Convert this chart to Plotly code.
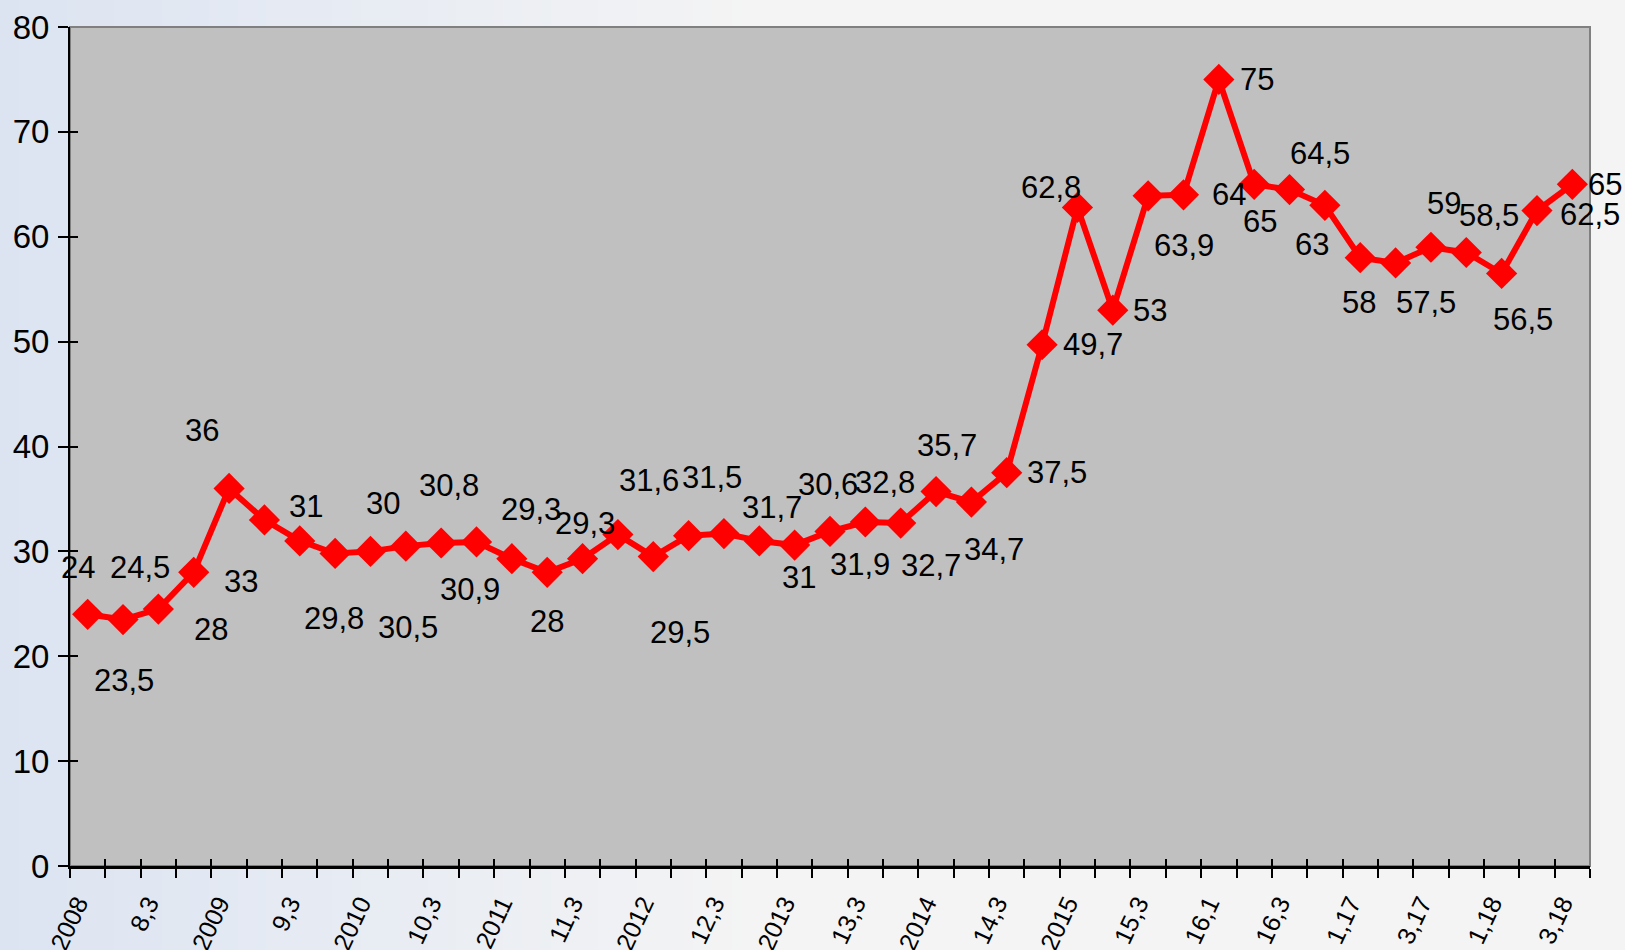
import plotly.graph_objects as go

# ---- data ----
values = [24, 23.5, 24.5, 28, 36, 33, 31, 29.8, 30, 30.5, 30.8, 30.9, 29.3, 28, 29.3,
          31.6, 29.5, 31.5, 31.7, 31, 30.6, 31.9, 32.8, 32.7, 35.7, 34.7, 37.5, 49.7,
          62.8, 53, 63.9, 64, 75, 65, 64.5, 63, 58, 57.5, 59, 58.5, 56.5, 62.5, 65]
tick_labels = ["2008", "8,3", "2009", "9,3", "2010", "10,3", "2011", "11,3", "2012",
               "12,3", "2013", "13,3", "2014", "14,3", "2015", "15,3", "16,1", "16,3",
               "1,17", "3,17", "1,18", "3,18"]
y_ticks = [0, 10, 20, 30, 40, 50, 60, 70, 80]

# label offsets (px, relative to each point; style only)
label_dx = [-10, 1, -18, 17, -27, -23, 6, -1, 13, 2, 8, -7, 19, 0, 2, 31, 27, 23, 48, 40,
            33, 30, 20, 30, 11, 23, 50, 51, -26, 37, 36, 46, 38, 6, 30, -13, -1, 30, 13,
            23, 21, 53, 33]
label_dy = [-47, 61, -42, 57, -58, 62, -34, 65, -48, 81, -57, 48, -49, 49, -35, -54, 76,
            -58, -26, 37, -61, 33, -40, 42, -46, 47, 0, 0, -20, 0, 50, 0, 0, 37, -36, 39,
            45, 40, -44, -37, 46, 4, 0]

FONT = "Liberation Sans, Arial, sans-serif"

xs = list(range(len(values)))
n = len(values)


def fmt(v):
    return str(int(v)) if float(v).is_integer() else str(v).replace(".", ",")


fig = go.Figure()
fig.add_trace(go.Scatter(
    x=xs, y=values, mode="lines+markers",
    line=dict(color="#FF0000", width=6),
    marker=dict(symbol="diamond", size=24, color="#FF0000"),
    showlegend=False, hoverinfo="skip", cliponaxis=False,
))
# dummy trace for overlay axes (inside ticks)
fig.add_trace(go.Scatter(x=[None], y=[None], xaxis="x2", yaxis="y2",
                         showlegend=False, hoverinfo="skip"))

# gradient paper background
W, H = 1625, 950
L, R, T, B = 70, 35, 27, 84
pw, ph = W - L - R, H - T - B
c0 = (220, 228, 242)
c1 = (244, 244, 244)
steps = 80
shapes = []
grad_end = 760
for k in range(steps):
    px0 = grad_end * k / steps
    px1 = grad_end * (k + 1) / steps + 1
    t = (k + 0.5) / steps
    col = tuple(int(round(c0[j] + (c1[j] - c0[j]) * t)) for j in range(3))
    shapes.append(dict(type="rect", xref="paper", yref="paper", layer="below",
                       x0=(px0 - L) / pw, x1=(px1 - L) / pw,
                       y0=-B / ph - 0.01, y1=1 + T / ph + 0.01,
                       fillcolor="rgb(%d,%d,%d)" % col, line=dict(width=0)))
# plot area
shapes.append(dict(type="rect", xref="paper", yref="paper", layer="below",
                   x0=0, x1=1, y0=0, y1=1, fillcolor="#C0C0C0",
                   line=dict(color="#808080", width=2)))

annotations = []
for i, v in enumerate(values):
    annotations.append(dict(x=i, y=v, xref="x", yref="y", text=fmt(v), showarrow=False,
                            xanchor="center", yanchor="middle",
                            xshift=label_dx[i], yshift=-label_dy[i],
                            font=dict(family=FONT, size=31, color="#000000")))

xr = [-0.5, n - 0.5]
fig.update_layout(
    width=W, height=H,
    margin=dict(l=L, r=R, t=T, b=B, autoexpand=False),
    paper_bgcolor="#F4F4F4",
    plot_bgcolor="rgba(0,0,0,0)",
    shapes=shapes,
    annotations=annotations,
    xaxis=dict(range=xr, tickmode="array", tickvals=xs[::2], ticktext=tick_labels,
               ticks="", tickangle=-65, showgrid=False, zeroline=False,
               showline=True, linecolor="#000000", linewidth=3, automargin=False,
               tickfont=dict(family=FONT, size=25, color="#000000"),
               ticklabelstandoff=10, ticklabelshift=-10,
               minor=dict(tickmode="array", tickvals=[i - 0.5 for i in range(n + 1)],
                          ticks="outside", ticklen=9, tickwidth=2, tickcolor="#000000",
                          showgrid=False)),
    yaxis=dict(range=[0, 80], tickmode="array", tickvals=y_ticks, ticks="outside",
               ticklen=10, tickwidth=2, tickcolor="#000000", showgrid=False,
               zeroline=False, showline=True, linecolor="#000000", linewidth=2,
               automargin=False,
               tickfont=dict(family=FONT, size=33, color="#000000"),
               ticklabelstandoff=2),
    xaxis2=dict(range=xr, overlaying="x", anchor="y2", side="bottom",
                tickmode="array", tickvals=[i - 0.5 for i in range(n + 1)],
                ticks="inside", ticklen=7, tickwidth=2, tickcolor="#000000",
                showticklabels=False, showgrid=False, zeroline=False, showline=False,
                automargin=False),
    yaxis2=dict(range=[0, 80], overlaying="y", anchor="x2", side="left",
                tickmode="array", tickvals=y_ticks, ticks="inside", ticklen=8,
                tickwidth=2, tickcolor="#000000", showticklabels=False,
                showgrid=False, zeroline=False, showline=False, automargin=False),
)

fig.write_html("out.html", config={"displayModeBar": False},
               post_script="document.body.style.margin='0';"
                           "document.body.style.overflow='hidden';")
